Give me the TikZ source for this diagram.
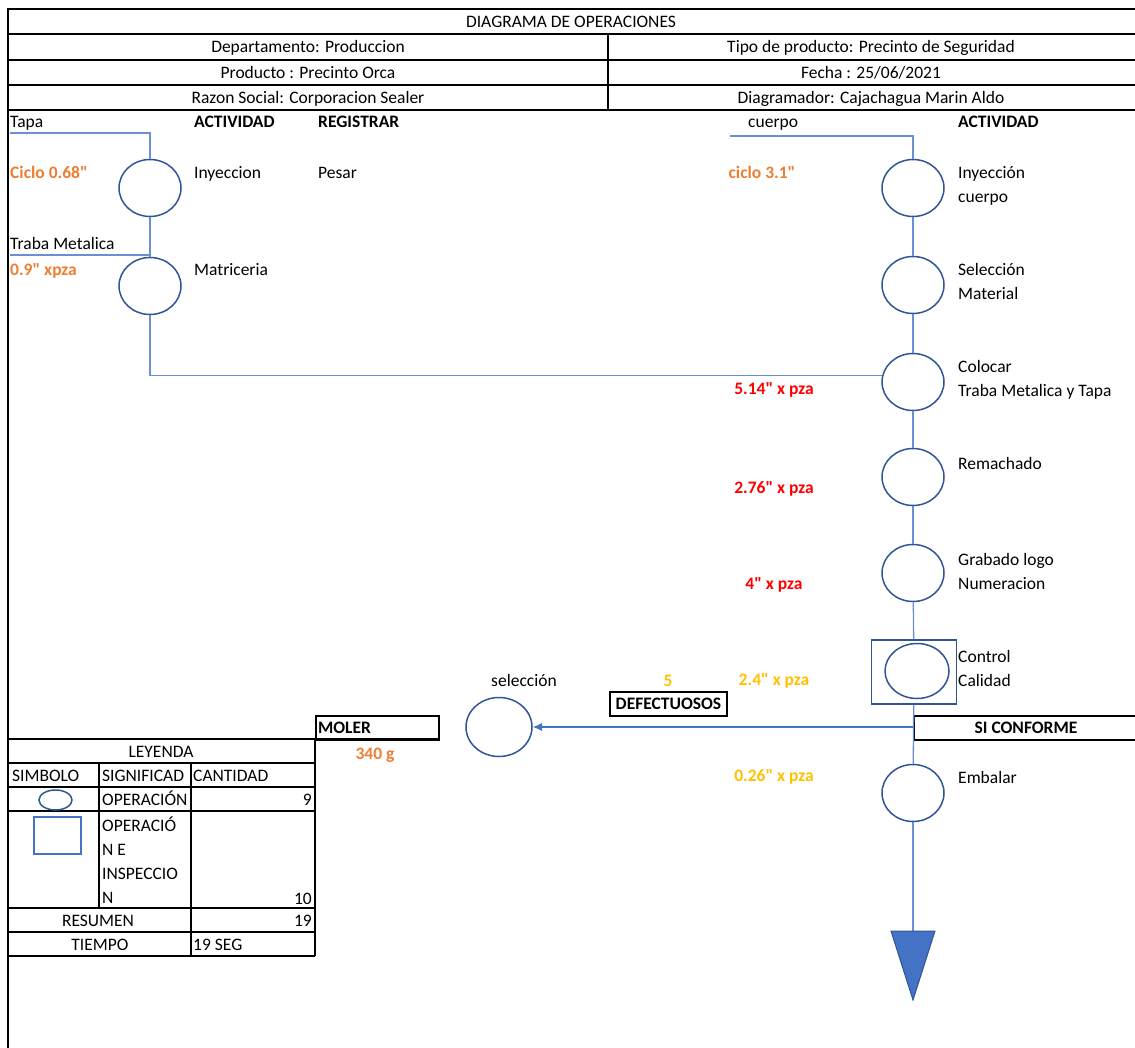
\documentclass[tikz,border=0pt]{standalone}
\usepackage{fontspec}
\setmainfont{Carlito}
\usepackage{xcolor}
\usetikzlibrary{positioning, arrows.meta, shapes.geometric}
\AtBeginDocument{\fontsize{17.5}{24}\selectfont}
\newcommand{\seg}{\textquotedbl} % comillas rectas de segundos

\definecolor{flowblue}{HTML}{6C8FD3}
\definecolor{opblue}{HTML}{2F5597}
\definecolor{fillblue}{HTML}{4472C4}
\definecolor{timeorange}{HTML}{ED7D31}
\definecolor{timered}{HTML}{FF0000}
\definecolor{timegold}{HTML}{FFC000}

\tikzset{
    op/.style={ellipse, draw=opblue, line width=1.5, minimum width=62, minimum height=57, inner sep=0}, % circulo de operacion
    inspect/.style={rectangle, draw=opblue, line width=1.5, minimum width=85, minimum height=64, inner sep=0}, % cuadro de inspeccion
    flow/.style={draw=flowblue, line width=1.3}, % lineas del flujo
    frame/.style={line width=2},
    lbl/.style={anchor=base west, inner sep=0, align=left},
    cell/.style={anchor=base, inner sep=0},
    num/.style={anchor=base east, inner sep=0},
    tiempo/.style={cell, font=\bfseries},
    tagbox/.style={draw, line width=2, inner sep=0, anchor=north west, font=\bfseries},
}

\begin{document}
\begin{tikzpicture}[x=1pt, y=-1pt]
    \useasboundingbox (0,0) rectangle (1135,1048);

    % Encabezado
    \draw[frame] (8,1048) -- (8,9) -- (1136,9);
    \foreach \y in {34,60,85,110} \draw[frame] (8,\y) -- (1136,\y);
    \draw[frame] (608,34) -- (608,110);
    \node[cell] (titulo) at (571,27.5) {DIAGRAMA DE OPERACIONES};
    \node[cell] (depto) at (308,53) {Departamento: Produccion};
    \node[cell] (prod) at (308,78.5) {Producto : Precinto Orca};
    \node[cell] (razon) at (308,104) {Razon Social: Corporacion Sealer};
    \node[cell] (tipo) at (871,53) {Tipo de producto: Precinto de Seguridad};
    \node[cell] (fecha) at (871,78.5) {Fecha : 25/06/2021};
    \node[cell] (diag) at (871,104) {Diagramador: Cajachagua Marin Aldo};

    % Rama izquierda
    \node[lbl] (tapa) at (10,128) {Tapa};
    \node[lbl, font=\bfseries] (actL) at (194,128) {ACTIVIDAD};
    \node[lbl, font=\bfseries] (reg) at (318,128) {REGISTRAR};
    \coordinate (tapaL) at (10,133);
    \node[op] (inyTapa) at (150,188) {};
    \node[lbl, font=\bfseries, text=timeorange] (cicloT) at (10,179) {Ciclo 0.68\seg};
    \node[lbl] (inyTapaTxt) at (194,179) {Inyeccion};
    \node[lbl] (pesar) at (318,179) {Pesar};
    \node[lbl] (traba) at (10,250) {Traba Metalica};
    \coordinate (trabaL) at (10,255);
    \node[op] (matr) at (150,286) {};
    \node[lbl, font=\bfseries, text=timeorange] (cicloM) at (10,276) {0.9\seg{} xpza};
    \node[lbl] (matrTxt) at (194,276) {Matriceria};

    % Rama derecha
    \node[lbl] (cuerpo) at (748,128) {cuerpo};
    \node[lbl, font=\bfseries] (actR) at (958,128) {ACTIVIDAD};
    \coordinate (cuerpoL) at (730,136);
    \node[op] (inyCuerpo) at (913,188) {};
    \node[lbl] at (958,203) {Inyección\\cuerpo};
    \node[tiempo, text=timeorange] at (762,179) {ciclo 3.1\seg};
    \node[op] (selMat) at (913,285) {};
    \node[lbl] at (958,300) {Selección\\Material};
    \node[op] (colocar) at (913,382) {};
    \node[lbl] at (958,396) {Colocar\\Traba Metalica y Tapa};
    \node[tiempo, text=timered] at (774,395) {5.14\seg{} x pza};
    \node[op] (remach) at (913,477) {};
    \node[lbl] at (958,469) {Remachado};
    \node[tiempo, text=timered] at (774,493) {2.76\seg{} x pza};
    \node[op] (grabado) at (913,573) {};
    \node[lbl] at (958,589) {Grabado logo\\Numeracion};
    \node[tiempo, text=timered] at (774,589) {4\seg{} x pza};
    \node[inspect] (control) at (914,672) {};
    \node[op, minimum width=64, minimum height=55] (controlOp) at (917,671) {};
    \node[lbl] at (958,686) {Control\\Calidad};
    \node[tiempo, text=timegold] at (774,685) {2.4\seg{} x pza};
    \node[tiempo, text=timegold] at (668,686) {5};
    \node[op] (embalar) at (913,793) {};
    \node[lbl] at (958,783) {Embalar};
    \node[tiempo, text=timegold] at (774,781) {0.26\seg{} x pza};
    \coordinate (fin) at (913,931);
    \coordinate (junta) at (913,727);

    % Rechazo
    \node[op, minimum width=66, minimum height=59] (seleccion) at (499,727) {};
    \node[cell] at (524,686) {selección};
    \node[tagbox, minimum width=117, minimum height=24] (defect) at (609,691) {DEFECTUOSOS};
    \node[tagbox, minimum width=224, minimum height=24] (conforme) at (913,715) {SI CONFORME};
    \node[tagbox, minimum width=123, minimum height=24, text width=119, align=left] (moler) at (315,715) {MOLER};
    \node[tiempo, text=timeorange] at (375,759) {340 g};

    % Conexiones
    \draw[flow] (tapaL) -| (inyTapa.north);
    \draw[flow] (inyTapa) -- (matr);
    \draw[flow] (trabaL) -| (matr.north);
    \draw[flow] (matr.south) |- (colocar.168);
    \draw[flow] (cuerpoL) -| (inyCuerpo.north);
    \draw[flow] (inyCuerpo) -- (selMat);
    \draw[flow] (selMat) -- (colocar);
    \draw[flow] (colocar) -- (remach);
    \draw[flow] (remach) -- (grabado);
    \draw[flow] (grabado) -- (control);
    \draw[flow] (control) -- (embalar);
    \draw[flow] (embalar) -- (fin);
    \draw[flow, -{Latex[length=9, width=8]}, color=fillblue] (junta) -- (seleccion);
    \draw[fill=fillblue, draw=opblue, line width=1] (fin) ++(-22,0) -- ++(44,0) -- (913,1000) -- cycle;

    % Leyenda
    \draw[frame] (8,739) -- (438,739);
    \foreach \y in {763,787,811,908,932,956} \draw[frame] (8,\y) -- (315,\y);
    \draw[frame] (99,763) -- (99,908);
    \draw[frame] (191,763) -- (191,956);
    \draw[frame] (315,739) -- (315,956);
    \node[cell] (leyenda) at (161,757) {LEYENDA};
    \node[lbl] at (12,781) {SIMBOLO};
    \node[lbl] at (102,781) {SIGNIFICAD};
    \node[lbl] at (193,781) {CANTIDAD};
    \node[ellipse, draw=opblue, line width=1.5, minimum width=33, minimum height=20, inner sep=0] (symOp) at (55.5,800) {};
    \node[lbl] at (102,805) {OPERACIÓN};
    \node[num] at (312,805) {9};
    \node[rectangle, draw=fillblue, line width=1.3, minimum width=47, minimum height=37, inner sep=0] (symIns) at (57.5,835.5) {};
    \node[lbl] at (102,903) {OPERACIÓ\\N E\\INSPECCIO\\N};
    \node[num] at (312,904) {10};
    \node[cell] at (98,926) {RESUMEN};
    \node[num] at (312,926) {19};
    \node[cell] at (100,950) {TIEMPO};
    \node[lbl] at (193,950) {19 SEG};
\end{tikzpicture}
\end{document}
